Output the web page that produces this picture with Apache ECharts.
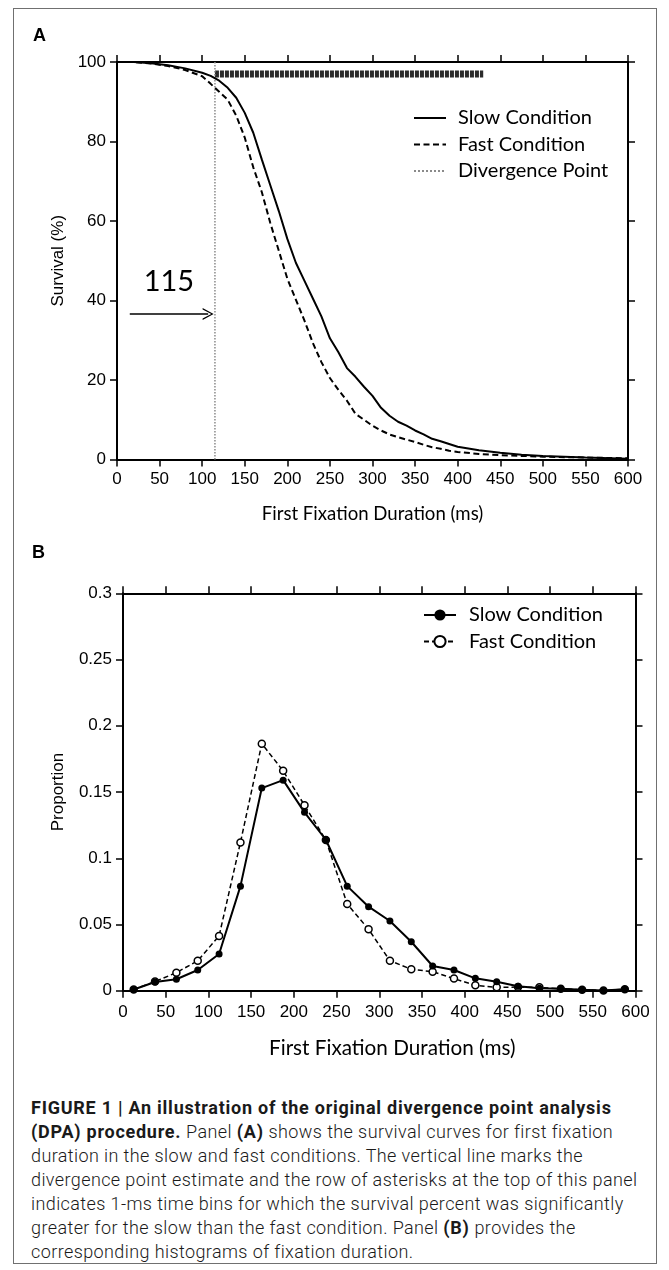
<!DOCTYPE html>
<html>
<head>
<meta charset="utf-8">
<script src="https://cdn.jsdelivr.net/npm/echarts@6.0.0/dist/echarts.min.js"></script>
<style>
body { margin: 0; background: #fff; }
#page { position: relative; width: 669px; height: 1270px; overflow: hidden; background: #fff; }
#frame { position: absolute; left: 13px; top: 8px; width: 644px; height: 1256px; border: 1.5px solid #707070; box-sizing: border-box; }
.panel { position: absolute; left: 0; width: 669px; }
#chartA { top: 0; height: 530px; }
#chartB { top: 530px; height: 540px; }
.tag { position: absolute; font: bold 18px "Liberation Sans", Arial, sans-serif; color: #000; }
#caption { position: absolute; left: 31px; top: 1096px; font-family: Roboto, sans-serif; font-weight: 300;
  font-size: 18px; letter-spacing: 0.4px; line-height: 24px; color: #1a1a1a; white-space: nowrap; }
#caption b { font-weight: 700; letter-spacing: 0.75px; }
</style>
</head>
<body>
<div id="page">
  <div id="frame"></div>
  <div id="chartA" class="panel"></div>
  <div id="chartB" class="panel"></div>
  <div class="tag" style="left:33px;top:25px">A</div>
  <div class="tag" style="left:32px;top:542px">B</div>
  <div id="caption">
    <div><b>FIGURE 1 | An illustration of the original divergence point analysis</b></div>
    <div><b>(DPA) procedure.</b> Panel <b>(A)</b> shows the survival curves for first fixation</div>
    <div>duration in the slow and fast conditions. The vertical line marks the</div>
    <div>divergence point estimate and the row of asterisks at the top of this panel</div>
    <div>indicates 1-ms time bins for which the survival percent was significantly</div>
    <div>greater for the slow than the fast condition. Panel <b>(B)</b> provides the</div>
    <div>corresponding histograms of fixation duration.</div>
  </div>
</div>
<script>
// panel A: survival curves (ms, %)
const survTime = [0, 20, 40, 60, 80, 100, 110, 120, 130, 140, 150, 160, 170, 180, 190, 200,
  210, 220, 230, 240, 250, 260, 270, 280, 290, 300, 310, 320, 330, 340, 350, 360, 370, 380,
  390, 400, 425, 450, 475, 500, 550, 600]
const slowSurvival = [100, 100, 99.7, 99.2, 98.4, 97.3, 96.5, 95.3, 93.5, 91, 87.2, 82.2, 75.5,
  69, 62.5, 55.5, 49.5, 45, 40.5, 36, 30.5, 27, 23, 20.8, 18.3, 16, 13, 11, 9.5, 8.5, 7.3, 6.3,
  5.2, 4.6, 3.9, 3.2, 2.3, 1.7, 1.2, 0.9, 0.5, 0.2]
const fastSurvival = [100, 100, 99.6, 99, 98, 96.4, 94.5, 92.5, 90.5, 86.5, 81, 73.5, 67.3,
  59.5, 52.5, 45.5, 40.2, 35, 29.3, 24.5, 20.5, 17.5, 14.8, 11.5, 10, 8.5, 7.3, 6.3, 5.6, 5,
  4.4, 3.7, 3.1, 2.7, 2.2, 1.9, 1.4, 1.1, 0.9, 0.7, 0.5, 0.3]

const divergencePoint = 115
const asteriskRange = [115, 430]
const asteriskLevel = 97
// arrow pointing at the divergence line
const arrowFrom = [15, 36.6]
const arrowTo = [107, 36.6]

// panel B: histograms, 25 ms bins
const binCenters = [12.5, 37.5, 62.5, 87.5, 112.5, 137.5, 162.5, 187.5, 212.5, 237.5, 262.5,
  287.5, 312.5, 337.5, 362.5, 387.5, 412.5, 437.5, 462.5, 487.5, 512.5, 537.5, 562.5, 587.5]
const slowProportion = [0.001, 0.0066, 0.0087, 0.0157, 0.0278, 0.079, 0.153, 0.159, 0.1347,
  0.114, 0.079, 0.0635, 0.0527, 0.037, 0.0187, 0.0157, 0.0094, 0.0069, 0.0035, 0.002, 0.0015,
  0.0008, 0.0003, 0.0012]
const fastProportion = [0.001, 0.007, 0.0137, 0.0227, 0.0414, 0.112, 0.1865, 0.166, 0.140,
  0.1138, 0.0655, 0.0464, 0.0227, 0.0162, 0.0144, 0.0092, 0.0041, 0.0026, 0.0028, 0.0026,
  0.0015, 0.0008, 0.0003, 0.0012]

const fontTick = '"Liberation Sans", Arial, sans-serif'
const fontText = 'Lato, "Open Sans", sans-serif'

const pairs = (xs, ys) => xs.map((x, i) => [x, ys[i]])

const axis = (extra) => Object.assign({
  type: 'value',
  axisLine: { show: true, onZero: false, lineStyle: { color: '#000', width: 2 } },
  axisTick: { show: true, inside: false, length: 7, lineStyle: { color: '#000', width: 1.5 } },
  splitLine: { show: false },
  axisLabel: { color: '#000', fontSize: 17, fontFamily: fontTick, margin: 11 }
}, extra)

const noLabel = { show: false }
const arrowHead = 'path://M0,12 L8,0 L16,12 L14,12 L8,2.6 L2,12 Z'

const optionA = {
  animation: false,
  grid: { left: 117, top: 62, width: 511, height: 397.5 },
  xAxis: [
    axis({ min: 0, max: 600, interval: 50, position: 'bottom',
      name: 'First Fixation Duration (ms)', nameLocation: 'middle', nameGap: 44.5,
      nameTextStyle: { fontFamily: fontText, fontSize: 18.6, color: '#000' } }),
    axis({ min: 0, max: 600, interval: 50, position: 'top', axisLabel: noLabel })
  ],
  yAxis: [
    axis({ min: 0, max: 100, interval: 20, position: 'left',
      name: 'Survival (%)', nameLocation: 'middle', nameGap: 46,
      nameTextStyle: { fontFamily: fontTick, fontSize: 17, color: '#000' } }),
    axis({ min: 0, max: 100, interval: 20, position: 'right', axisLabel: noLabel })
  ],
  legend: {
    orient: 'vertical', left: 413, top: 108, padding: 0,
    itemWidth: 32, itemHeight: 14, itemGap: 6.5,
    selectedMode: false,
    itemStyle: { opacity: 0 },
    data: ['Slow Condition', 'Fast Condition', 'Divergence Point'],
    textStyle: { fontFamily: fontText, fontSize: 20, lineHeight: 20, color: '#000', padding: [0, 0, 0, 7] }
  },
  series: [
    {
      name: 'Asterisks', type: 'line', symbol: 'none', z: 1,
      data: asteriskRange.map(x => [x, asteriskLevel]),
      lineStyle: { color: '#2b2b2b', width: 7, type: [4, 1] }
    },
    {
      name: 'Divergence Point', type: 'line', symbol: 'none',
      data: [[divergencePoint, 0], [divergencePoint, 100]],
      lineStyle: { color: '#8a8a8a', width: 1.5, type: 'dotted' },
      markLine: {
        silent: true, animation: false,
        symbol: ['none', arrowHead], symbolSize: [12, 11],
        lineStyle: { color: '#000', type: 'solid', width: 1.5 },
        label: {
          show: true, position: 'insideMiddleTop', distance: 18,
          formatter: String(divergencePoint),
          fontFamily: fontText, fontSize: 29, color: '#000'
        },
        data: [[{ coord: arrowFrom }, { coord: arrowTo }]]
      }
    },
    {
      name: 'Slow Condition', type: 'line', symbol: 'none',
      data: pairs(survTime, slowSurvival),
      lineStyle: { color: '#000', width: 2 }
    },
    {
      name: 'Fast Condition', type: 'line', symbol: 'none',
      data: pairs(survTime, fastSurvival),
      lineStyle: { color: '#000', width: 2, type: [6, 3.5] }
    }
  ]
}

const optionB = {
  animation: false,
  grid: { left: 123, top: 63.3, width: 512.5, height: 397.5 },
  xAxis: [
    axis({ min: 0, max: 600, interval: 50, position: 'bottom',
      axisLabel: { color: '#000', fontSize: 17, fontFamily: fontTick, margin: 13 },
      name: 'First Fixation Duration (ms)', nameLocation: 'middle', nameGap: 47,
      nameTextStyle: { fontFamily: fontText, fontSize: 20.7, color: '#000', padding: [0, 0, 0, 26] } }),
    axis({ min: 0, max: 600, interval: 50, position: 'top', axisLabel: noLabel })
  ],
  yAxis: [
    axis({ min: 0, max: 0.3, interval: 0.05, position: 'left',
      name: 'Proportion', nameLocation: 'middle', nameGap: 56,
      nameTextStyle: { fontFamily: fontTick, fontSize: 17, color: '#000' } }),
    axis({ min: 0, max: 0.3, interval: 0.05, position: 'right', axisLabel: noLabel })
  ],
  legend: {
    orient: 'vertical', left: 423, top: 75, padding: 0,
    itemWidth: 32, itemHeight: 14, itemGap: 6.5,
    selectedMode: false,
    data: ['Slow Condition', 'Fast Condition'],
    textStyle: { fontFamily: fontText, fontSize: 20, lineHeight: 20, color: '#000', padding: [0, 0, 0, 8] }
  },
  series: [
    {
      name: 'Fast Condition', type: 'line', symbol: 'circle', symbolSize: 7,
      data: pairs(binCenters, fastProportion),
      lineStyle: { color: '#000', width: 1.5, type: [5, 3] },
      itemStyle: { color: '#fff', borderColor: '#000', borderWidth: 1.5 }
    },
    {
      name: 'Slow Condition', type: 'line', symbol: 'circle', symbolSize: 7,
      data: pairs(binCenters, slowProportion),
      lineStyle: { color: '#000', width: 2 },
      itemStyle: { color: '#000' }
    }
  ]
}

const chartA = echarts.init(document.getElementById('chartA'))
chartA.setOption(optionA)
const chartB = echarts.init(document.getElementById('chartB'))
chartB.setOption(optionB)
</script>
</body>
</html>
